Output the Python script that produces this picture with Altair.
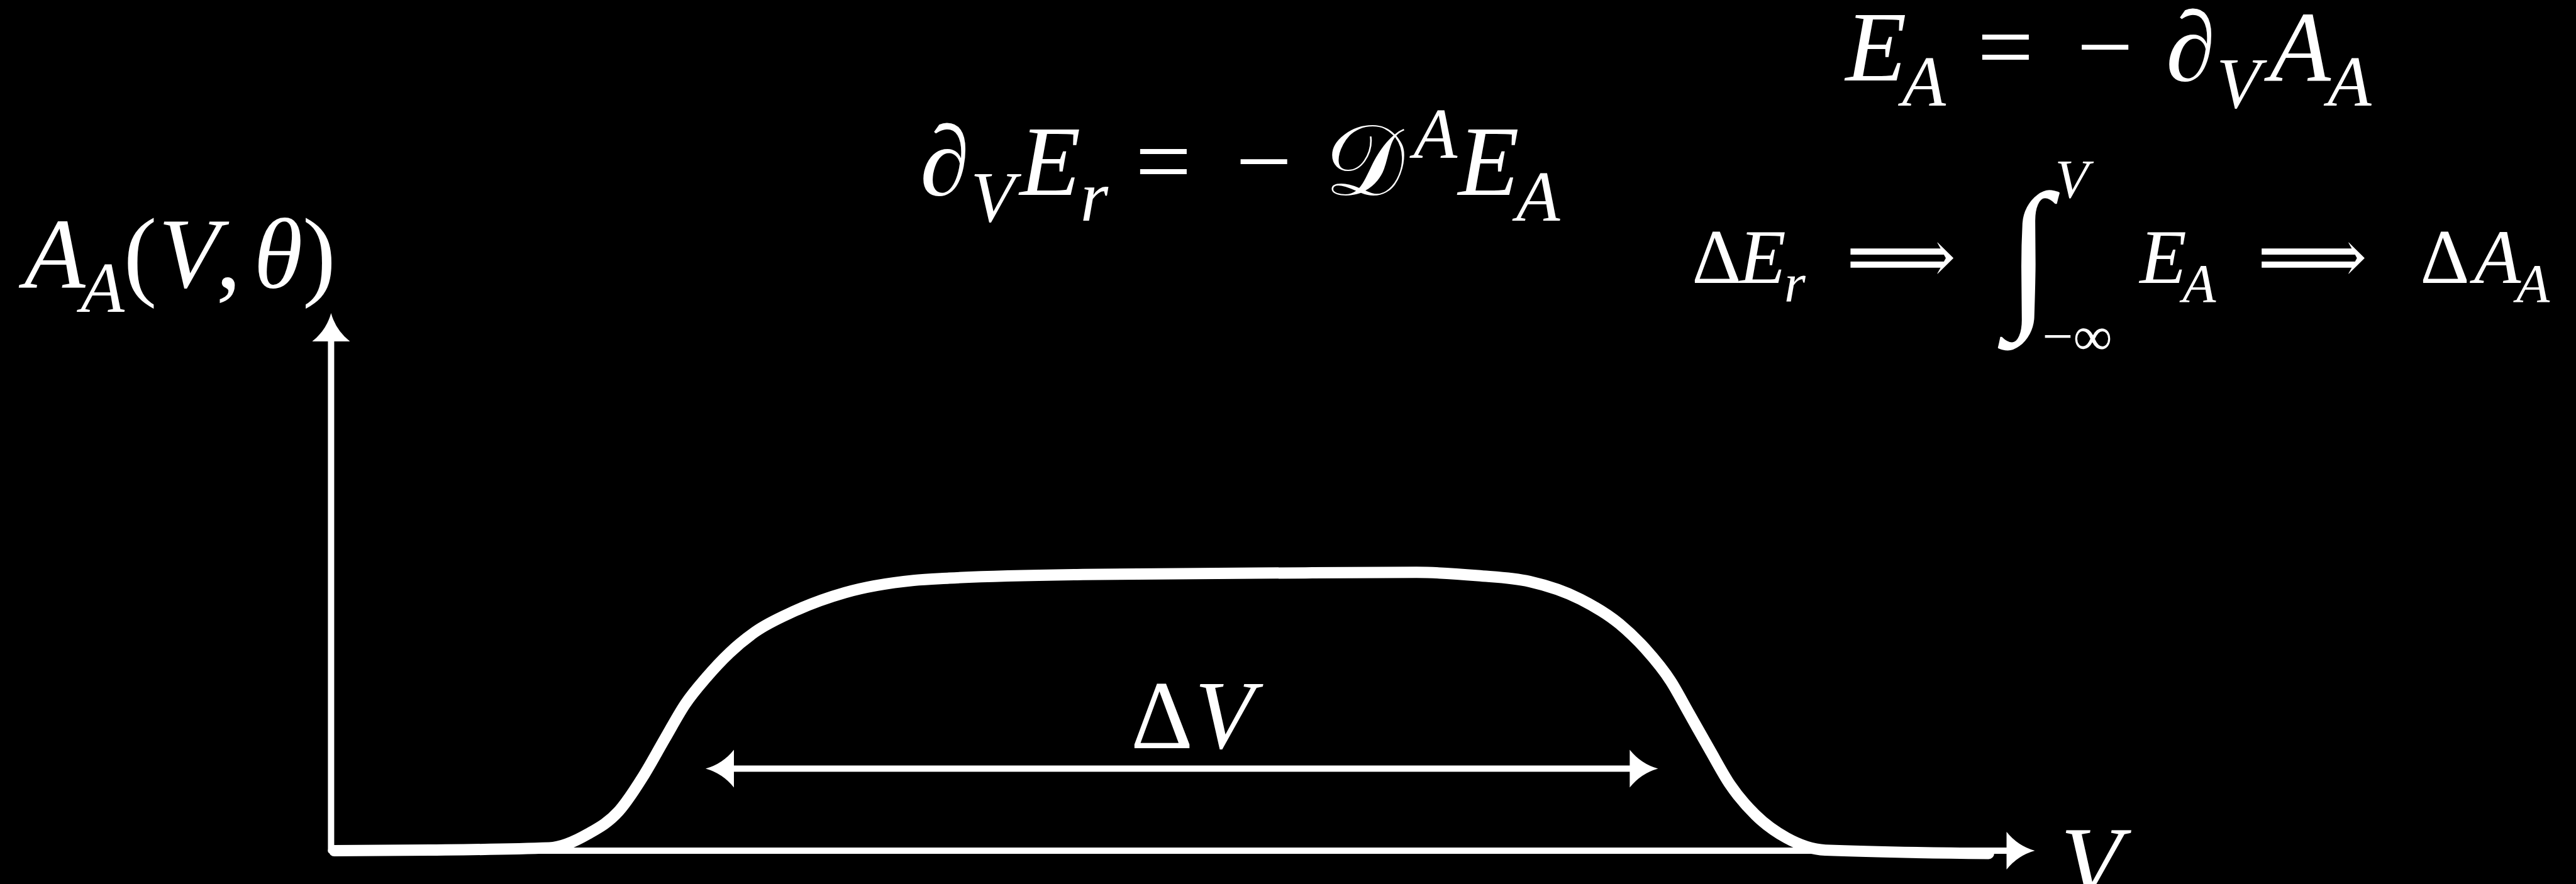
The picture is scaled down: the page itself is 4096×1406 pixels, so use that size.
import altair as alt
import pandas as pd

# ---- profile of the field A_A along V (plateau normalised to 1) ----
V_GRID = [0.02, 0.613, 1.353, 1.593, 1.783, 1.943, 2.070, 2.197, 2.327, 2.470,
          2.630, 2.867, 3.187, 3.613, 3.833, 4.663, 6.043, 6.733, 7.113, 7.433,
          7.750, 7.990, 8.150, 8.310, 8.420, 8.550, 8.677, 8.837, 9.027, 9.267,
          10.28]
A_PROFILE = [0.000, 0.002, 0.010, 0.060, 0.141, 0.274, 0.402, 0.527, 0.622, 0.710,
             0.786, 0.859, 0.927, 0.971, 0.979, 0.992, 0.998, 1.000, 0.988, 0.967,
             0.903, 0.815, 0.726, 0.608, 0.496, 0.363, 0.237, 0.127, 0.046, 0.002,
             -0.010]

# axes of the sketch and the width arrow
AXIS_V_END = 10.567
AXIS_A_END = 1.931
DV_START, DV_END, DV_LEVEL = 2.323, 8.230, 0.295

# ---- equation pieces: (text, V, A, font size, italic) ----
MAIN, SUB = 159, 114
SMALL, SMALLSUB = 122, 87
PIECES = [
    # A_A(V, θ)
    ("A", -1.903, 2.023, MAIN, True),
    ("A", -1.553, 1.936, SUB, True),
    ("(", -1.287, 2.023, MAIN, False),
    ("V", -1.070, 2.023, MAIN, True),
    (",", -0.713, 2.023, MAIN, False),
    ("θ", -0.480, 2.023, MAIN, True),
    (")", -0.177, 2.023, MAIN, False),
    # ∂_V E_r = − 𝒟^A E_A
    ("∂", 3.653, 2.355, MAIN, True),
    ("V", 3.967, 2.261, SUB, True),
    ("E", 4.270, 2.355, MAIN, True),
    ("r", 4.647, 2.264, SUB, True),
    ("=", 4.987, 2.355, MAIN, False),
    ("−", 5.610, 2.355, MAIN, False),
    ("𝒟", 6.163, 2.355, MAIN, False),
    ("A", 6.713, 2.490, SUB, True),
    ("E", 6.990, 2.355, MAIN, True),
    ("A", 7.350, 2.263, SUB, True),
    # E_A = − ∂_V A_A
    ("E", 9.393, 2.766, MAIN, True),
    ("A", 9.743, 2.676, SUB, True),
    ("=", 10.210, 2.766, MAIN, False),
    ("−", 10.827, 2.766, MAIN, False),
    ("∂", 11.380, 2.766, MAIN, True),
    ("V", 11.693, 2.670, SUB, True),
    ("A", 12.023, 2.766, MAIN, True),
    ("A", 12.383, 2.676, SUB, True),
    # ΔE_r ⟹ ∫ E_A ⟹ ΔA_A
    ("Δ", 8.440, 2.039, SMALL, False),
    ("E", 8.733, 2.039, SMALL, True),
    ("r", 9.013, 1.971, SMALLSUB, True),
    ("⟹", 9.397, 2.039, SMALL, False),
    ("V", 10.693, 2.346, SMALLSUB, True),
    ("−∞", 10.613, 1.782, SMALLSUB, False),
    ("E", 11.217, 2.039, SMALL, True),
    ("A", 11.483, 1.971, SMALLSUB, True),
    ("⟹", 11.947, 2.039, SMALL, False),
    ("Δ", 12.957, 2.039, SMALL, False),
    ("A", 13.290, 2.039, SMALL, True),
    ("A", 13.553, 1.971, SMALLSUB, True),
    # width label
    ("Δ", 4.960, 0.369, 154, False),
    ("V", 5.357, 0.369, 154, True),
    # horizontal axis label
    ("V", 10.727, -0.162, MAIN, True),
]
INTEGRAL = ("∫", 10.530, 1.954, 260)

W, H = 4096, 1406
xs = alt.Scale(domain=[-2.0533, 13.9233], nice=False, zero=False)
ys = alt.Scale(domain=[-0.1197, 3.0560], nice=False, zero=False)
FONT = "Liberation Serif, DejaVu Serif, DejaVu Sans"
INK = "white"

curve_df = pd.DataFrame({"V": V_GRID, "A": A_PROFILE})
curve = alt.Chart(curve_df).mark_line(
    color=INK, strokeWidth=18, interpolate="monotone", strokeCap="round"
).encode(x=alt.X("V:Q", scale=xs, axis=None), y=alt.Y("A:Q", scale=ys, axis=None))

# horizontal rules: V axis and the ΔV span
hrules_df = pd.DataFrame({
    "v0": [0.0, DV_START + 0.1],
    "v1": [AXIS_V_END - 0.1, DV_END - 0.1],
    "a": [0.0, DV_LEVEL],
})
hrules = alt.Chart(hrules_df).mark_rule(color=INK, strokeWidth=10, strokeCap="round").encode(
    x=alt.X("v0:Q", scale=xs, axis=None), x2="v1:Q", y=alt.Y("a:Q", scale=ys, axis=None)
)

# vertical rule: A axis
vrule_df = pd.DataFrame({"v": [0.0], "a0": [0.0], "a1": [AXIS_A_END - 0.08]})
vrule = alt.Chart(vrule_df).mark_rule(color=INK, strokeWidth=10, strokeCap="round").encode(
    x=alt.X("v:Q", scale=xs, axis=None), y=alt.Y("a0:Q", scale=ys, axis=None), y2="a1:Q"
)

# arrowheads, tip at the symbol origin, pointing up before rotation
HEAD = "M0,0 Q0.25,0.9 1,1.5 L-1,1.5 Q-0.25,0.9 0,0 Z"
heads_df = pd.DataFrame({
    "v": [0.0, AXIS_V_END, DV_START, DV_END],
    "a": [AXIS_A_END, 0.0, DV_LEVEL, DV_LEVEL],
    "rot": [0, 90, 270, 90],
})
heads = alt.Chart(heads_df).mark_point(
    shape=HEAD, filled=True, fill=INK, strokeWidth=0, opacity=1, size=3600
).encode(
    x=alt.X("v:Q", scale=xs, axis=None),
    y=alt.Y("a:Q", scale=ys, axis=None),
    angle=alt.Angle("rot:Q", scale=None),
)

text_df = pd.DataFrame(PIECES, columns=["t", "v", "a", "s", "it"])


def text_layer(df, style):
    return alt.Chart(df).mark_text(
        font=FONT, fontStyle=style, color=INK, align="left", baseline="alphabetic"
    ).encode(
        x=alt.X("v:Q", scale=xs, axis=None),
        y=alt.Y("a:Q", scale=ys, axis=None),
        text="t:N",
        size=alt.Size("s:Q", scale=None),
    )


italic = text_layer(text_df[text_df["it"]], "italic")
upright = text_layer(text_df[~text_df["it"]], "normal")

int_df = pd.DataFrame([INTEGRAL], columns=["t", "v", "a", "s"])
integral = alt.Chart(int_df).mark_text(
    font=FONT, color=INK, align="center", baseline="alphabetic"
).encode(
    x=alt.X("v:Q", scale=xs, axis=None),
    y=alt.Y("a:Q", scale=ys, axis=None),
    text="t:N",
    size=alt.Size("s:Q", scale=None),
)

chart = alt.layer(hrules, vrule, curve, heads, italic, upright, integral).properties(
    width=W, height=H, background="black", padding=0,
    autosize=alt.AutoSizeParams(type="none"),
).configure_view(stroke=None)

chart.save("out.html", embed_options={"renderer": "svg", "actions": False})
